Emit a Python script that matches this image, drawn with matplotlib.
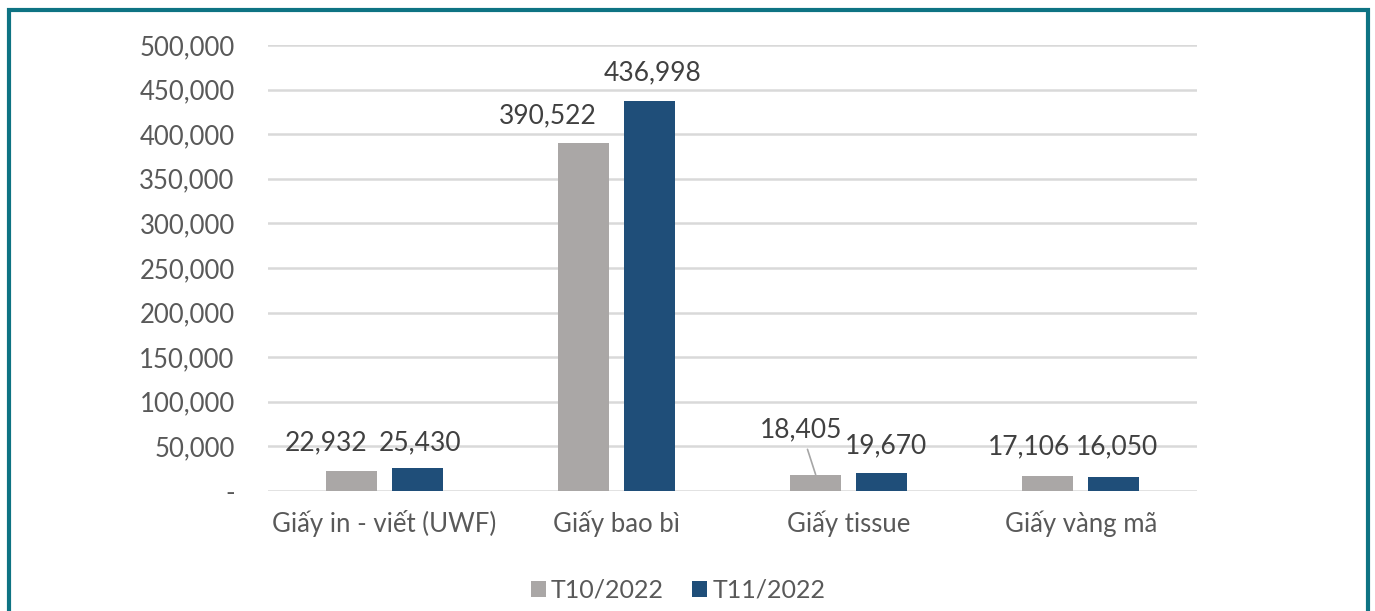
import matplotlib.pyplot as plt
import numpy as np
from matplotlib.patches import Rectangle
from matplotlib.ticker import FuncFormatter

categories = ["Giấy in - viết (UWF)", "Giấy bao bì", "Giấy tissue", "Giấy vàng mã"]
t10 = [22932, 390522, 18405, 17106]
t11 = [25430, 436998, 19670, 16050]
series_names = ["T10/2022", "T11/2022"]
yticks = [0, 50000, 100000, 150000, 200000, 250000, 300000, 350000, 400000, 450000, 500000]

plt.rcParams['font.family'] = ['Lato', 'DejaVu Sans']

fig = plt.figure(figsize=(13.75, 6.11), dpi=100)
# outer teal frame (bottom edge is cut off in the original)
fig.patches.append(Rectangle((9 / 1375, -0.05), 1359 / 1375, 1 - 10 / 611 + 0.05,
                             transform=fig.transFigure, fill=False,
                             edgecolor="#0e7383", linewidth=3))

ax = fig.add_axes([268 / 1375, 1 - 491 / 611, 929 / 1375, 446 / 611])

x = np.arange(len(categories))
w = 0.22
off = 0.142
b1 = ax.bar(x - off, t10, w, color="#aaa7a6", label=series_names[0], zorder=3)
b2 = ax.bar(x + off, t11, w, color="#1f4e79", label=series_names[1], zorder=3)

ax.set_xlim(-0.5, len(categories) - 0.5)
ax.set_ylim(0, 500000)
ax.set_yticks(yticks)
ax.yaxis.set_major_formatter(FuncFormatter(lambda v, p: "-" if v == 0 else f"{int(v):,}"))
ax.grid(axis="y", color="#d9d9d9", linewidth=1.8, zorder=0)
for s in ax.spines.values():
    s.set_visible(False)
ax.tick_params(axis="both", length=0, labelsize=18.5, colors="#595959")
ax.tick_params(axis="y", pad=24)
ax.set_xticks(x)
ax.set_xticklabels(categories)
ax.tick_params(axis="x", pad=14)

# label nudges: x in category units, y in pixels above the bar top
dx10 = [-0.108, -0.155, -0.062, -0.082]
dy10 = [20, 19, 37, 21]
dx11 = [0.013, 0.013, 0.017, 0.013]
dy11 = [18, 21, 20, 22]

lbl = dict(fontsize=19, color="#404040", ha="center", va="baseline", zorder=4,
           textcoords="offset pixels")
for i in range(len(categories)):
    if i == 2:
        ax.annotate(f"{t10[i]:,}", (x[i] - off, t10[i]),
                    xytext=(dx10[i] * 232 - 0, dy10[i]),
                    arrowprops=dict(arrowstyle="-", color="#a6a6a6", lw=1.2,
                                    shrinkA=3, shrinkB=0), **lbl)
    else:
        ax.annotate(f"{t10[i]:,}", (x[i] - off, t10[i]), xytext=(dx10[i] * 232, dy10[i]), **lbl)
    ax.annotate(f"{t11[i]:,}", (x[i] + off, t11[i]), xytext=(dx11[i] * 232, dy11[i]), **lbl)

leg = fig.legend(handles=[b1, b2], loc="center", bbox_to_anchor=(678 / 1375, 1 - 590 / 611),
                 ncol=2, frameon=False, fontsize=18, handlelength=0.6, handleheight=0.6,
                 handletextpad=0.2, columnspacing=1.15)
for t in leg.get_texts():
    t.set_color("#595959")

fig.savefig("out.png", dpi=100, facecolor="white")
